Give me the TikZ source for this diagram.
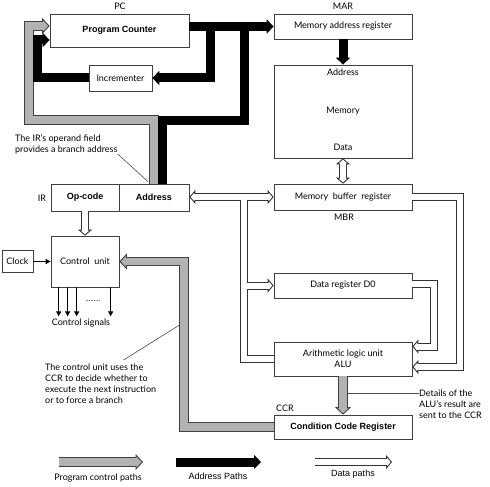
\documentclass[tikz,border=0pt]{standalone}
\usepackage{fontspec}
\setmainfont{Lato}
\newfontfamily\arialfont{Liberation Sans}
\usepackage{tikz}
\usetikzlibrary{arrows.meta}

\tikzset{
  box/.style={draw=black!75, line width=0.7pt, inner sep=0pt},
  lbl/.style={inner sep=0pt},
  hdr/.style={font=\arialfont\bfseries},
  note/.style={draw=black!70, line width=0.6pt},
  sig/.style={line width=0.9pt, -{Triangle[length=5pt, width=5pt]}},
  tipend/.style={}, tipboth/.style={},
  addrline/.style={line width=9pt},
  addrpath/.style={line width=9pt, -{Triangle[length=7pt, width=14pt]}},
  ctrl1/.style={line width=9.6pt, draw=black!75,
    tipend/.style={arrows={-Triangle[length=7.5pt, width=16pt, line width'=0.9pt, fill=gray!60]}}},
  ctrl2/.style={line width=7.6pt, draw=gray!60, tipend/.style={shorten >=5.8pt}},
  data1/.style={line width=8pt, draw=black!80,
    tipend/.style={arrows={-Triangle[length=6pt, width=14pt, line width'=0.9pt, fill=white]}},
    tipboth/.style={arrows={Triangle[length=6pt, width=14pt, line width'=0.9pt, fill=white]-Triangle[length=6pt, width=14pt, line width'=0.9pt, fill=white]}}},
  data2/.style={line width=6pt, draw=white, tipend/.style={shorten >=4.5pt},
    tipboth/.style={shorten >=4.5pt, shorten <=4.5pt}},
}

\begin{document}
\fontsize{9}{11}\selectfont
\begin{tikzpicture}[x=1pt, y=-1pt]
\useasboundingbox (0,0) rectangle (490,487);

\node [box, hdr, minimum width=139pt, minimum height=33pt] (pc) at (119.5,30.5) {Program Counter};
\node [lbl] (pclbl) at (120,6) {PC};
\node [box, minimum width=63pt, minimum height=26pt] (inc) at (120.5,78) {Incrementer};
\node [box, minimum width=138pt, minimum height=25pt] (mar) at (343,26.5) {Memory address register};
\node [lbl] (marlbl) at (343,6) {MAR};
\node [box, minimum width=138pt, minimum height=93pt] (mem) at (343,111.5) {};
\node [lbl] (memaddr) at (343,72) {Address};
\node [lbl] (memtxt) at (343,111) {Memory};
\node [lbl] (memdata) at (343,147) {Data};
\node [box, minimum width=138pt, minimum height=26pt] (mbr) at (343,197) {Memory\ \ buffer\ \ register};
\node [lbl] (mbrlbl) at (344,217) {MBR};
\node [box, minimum width=138pt, minimum height=25pt] (dreg) at (343,285.5) {Data register D0};
\node [box, align=center, minimum width=138pt, minimum height=34pt] (alu) at (343,359) {Arithmetic logic unit\\ALU};
\node [box, hdr, minimum width=138pt, minimum height=24pt] (ccr) at (343,427) {Condition Code Register};
\node [lbl] (ccrlbl) at (285,408) {CCR};
\node [box, hdr, minimum width=68pt, minimum height=27pt] (opc) at (85,197.5) {Op-code};
\node [box, hdr, minimum width=70pt, minimum height=27pt] (opnd) at (154,197.5) {Address};
\node [lbl] (irlbl) at (42,198) {IR};
\node [box, minimum width=68pt, minimum height=51pt] (cu) at (85,261.5) {Control\ \ unit};
\node [box, minimum width=31pt, minimum height=22pt] (clk) at (17.5,261.5) {Clock};

\coordinate (busj) at (244,197);
\coordinate (cupin) at (179.5,325);
\coordinate (alupin) at (347.5,393);
\coordinate (lgc1) at (59,462);
\coordinate (lgc2) at (143,462);
\coordinate (lga1) at (176,462);
\coordinate (lga2) at (261,462);
\coordinate (lgd1) at (315,462);
\coordinate (lgd2) at (392,462);

\foreach \lay in {1,2} {
  \draw [ctrl\lay, tipend] (opnd.north) |- (29,120) |- ([yshift=4.5pt]pc.west);
  \draw [ctrl\lay, tipend] (ccr.west) -| (184,261.5) -- (cu.east);
  \draw [ctrl\lay, tipend] (alu.south) -- (ccr.north);
  \draw [ctrl\lay, tipend] (lgc1) -- (lgc2);
}

\draw [addrpath] (mar.west -| pc.east) -- (mar.west);
\draw [addrpath] (mar.west -| pc.east) -- ++(21,0) |- (inc.east);
\draw [addrpath] (inc.west) -| (37,40) -- ([yshift=-9.5pt]pc.west);
\draw [addrline] ([xshift=8pt]opnd.north) |- (244,120) -- (mar.west -| busj);
\draw [addrpath] (mar.south) -- (mem.north);
\draw [addrpath] (lga1) -- (lga2);

\foreach \lay in {1,2} {
  \draw [data\lay, tipboth] (mem.south) -- (mbr.north);
  \draw [data\lay, tipboth] (mbr.west -| opnd.east) -- (mbr.west);
  \draw [data\lay, tipend] (busj) |- (dreg.west);
  \draw [data\lay] (alu.west) -| (busj);
  \draw [data\lay, tipend] (mbr.east) -- ++(48,0) |- ([yshift=-8pt]alu.east);
  \draw [data\lay, tipend] ([yshift=2pt]dreg.east) -- ++(22,0) |- ([yshift=12.5pt]alu.east);
  \draw [data\lay, tipend] (opc.south) -- (cu.north);
  \draw [data\lay, tipend] (lgd1) -- (lgd2);
}

\draw [sig] (clk) -- (cu.west);
\foreach \dx in {8,17,26,60}
  \draw [sig] ([xshift=\dx pt]cu.south west) -- ++(0,29);
\node [lbl, font=\fontsize{7}{8}\selectfont] (dots) at (93,301) {.........};
\node [lbl] (sigtxt) at (81,323) {Control signals};

\node [lbl, align=left, anchor=west] (irnote) at (15,144) {The IR’s operand field\\provides a branch address};
\draw [note] (irnote.south east) -- ([xshift=-6pt, yshift=2pt]opnd.north);
\node [lbl, align=left, anchor=west] (cunote) at (45,384) {The control unit uses the\\CCR to decide whether to\\execute the next instruction\\or to force a branch};
\draw [note] ([xshift=23pt, yshift=4pt]cunote.north) -- (cupin);
\node [lbl, align=left, anchor=west] (alunote) at (419,404) {Details of the\\ALU’s result are\\sent to the CCR};
\draw [note] (alupin) -- (alupin -| alunote.west);

\node [lbl] (lgctxt) at (98,478) {Program control paths};
\node [lbl, font=\arialfont] (lgatxt) at (218,476) {Address Paths};
\node [lbl, font=\arialfont] (lgdtxt) at (353,474) {Data paths};
\end{tikzpicture}
\end{document}
